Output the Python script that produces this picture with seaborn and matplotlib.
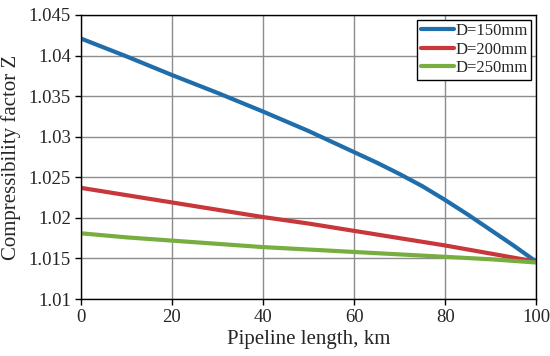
import matplotlib
matplotlib.use("Agg")
import matplotlib.pyplot as plt
import matplotlib.ticker as mticker
import pandas as pd
import seaborn as sns

## --- data
length_150 = [0, 10, 20, 30, 40, 50, 55, 60, 65, 70, 75, 80, 85, 90, 95, 100]
z_150 = [1.0421, 1.0399, 1.0376, 1.0354, 1.0331, 1.0307, 1.0294, 1.0281, 1.0268,
         1.0254, 1.0239, 1.0222, 1.0204, 1.0185, 1.0166, 1.0146]
length_200 = [0, 10, 20, 30, 40, 50, 60, 70, 80, 90, 100]
z_200 = [1.0237, 1.0228, 1.0219, 1.0210, 1.0201, 1.0193, 1.0184, 1.0175, 1.0166, 1.0156, 1.0146]
length_250 = [0, 10, 20, 30, 40, 50, 60, 70, 80, 90, 100]
z_250 = [1.0181, 1.0176, 1.0172, 1.0168, 1.0164, 1.0161, 1.0158, 1.0155, 1.0152, 1.0149, 1.0145]
series_names = ["D=150mm", "D=200mm", "D=250mm"]
colors = ["#1f6eab", "#c8373a", "#78ad3f"]

df = pd.concat([
    pd.DataFrame({"length": length_150, "z": z_150, "series": series_names[0]}),
    pd.DataFrame({"length": length_200, "z": z_200, "series": series_names[1]}),
    pd.DataFrame({"length": length_250, "z": z_250, "series": series_names[2]}),
], ignore_index=True)

sns.set_style("white")
plt.rcParams["font.family"] = ["Liberation Serif", "DejaVu Serif"]

fig = plt.figure(figsize=(5.5, 3.56), dpi=100)
ax = fig.add_axes([0.147, 0.160, 0.828, 0.798])

sns.lineplot(data=df, x="length", y="z", hue="series", palette=colors,
             linewidth=3.0, ax=ax)

ax.set_xlim(0, 100)
ax.set_ylim(1.01, 1.045)
ax.set_xticks(range(0, 101, 20))
ax.set_yticks([1.01, 1.015, 1.02, 1.025, 1.03, 1.035, 1.04, 1.045])
ax.yaxis.set_major_formatter(mticker.FuncFormatter(lambda v, p: "%g" % round(v, 4)))
ax.grid(True, color="#8c8c8c", linewidth=1.0)
ax.set_axisbelow(True)
for s in ax.spines.values():
    s.set_color("black")
    s.set_linewidth(1.0)
ax.tick_params(axis="both", direction="out", length=4, width=1, labelsize=13.5,
               color="black", bottom=True, left=True, pad=3)
ax.set_xlabel("Pipeline length, km", fontsize=15, labelpad=3)
ax.set_ylabel("Compressibility factor Z", fontsize=15, labelpad=6)

leg = ax.legend(loc="upper right", fontsize=12, fancybox=False, framealpha=1,
                edgecolor="black", borderpad=0.2, labelspacing=0.15,
                handlelength=2.0, handletextpad=0.1, borderaxespad=0.3)
leg.get_frame().set_linewidth(1.0)

fig.savefig("out.png", dpi=100)
